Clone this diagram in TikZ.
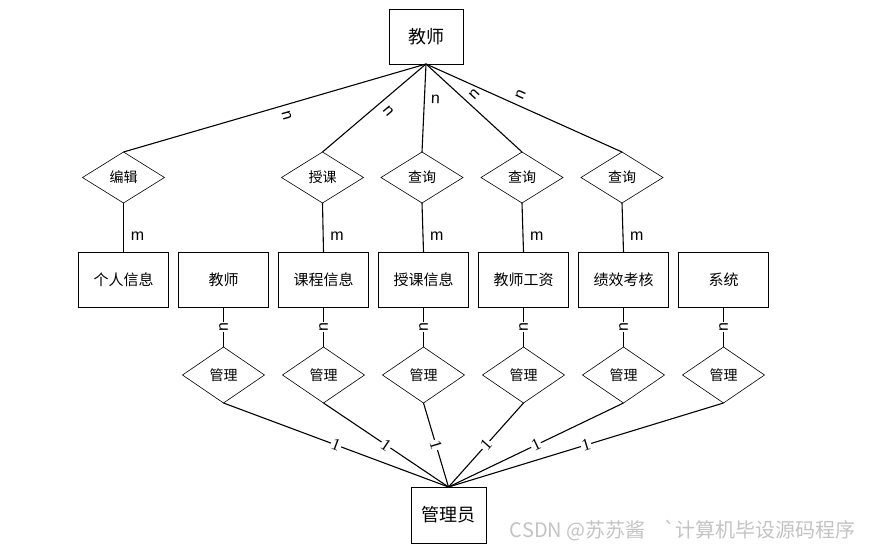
\documentclass[tikz,border=0pt]{standalone}
\usepackage{fontspec}
\setmainfont{Liberation Sans}
\newfontfamily\cjk{Noto Sans CJK SC}
\newfontfamily\numfont{Liberation Serif}
\usepackage{tikz}
\usetikzlibrary{positioning,shapes.geometric}
\definecolor{wmgray}{RGB}{195,195,195}

\begin{document}
\begin{tikzpicture}[x=1pt,y=1pt]
        \tikzset{entity/.style= {draw, rectangle, line width=.8pt, align=center,minimum width=90pt,minimum height=55pt,inner sep=0pt,outer sep=0pt,font=\cjk\fontsize{15}{18}\selectfont},
        bigentity/.style={entity,minimum width=74pt,font=\cjk\fontsize{18}{22}\selectfont},
        rel/.style={draw, diamond, line width=.6pt, inner sep=0pt,outer sep=0pt,minimum width=82pt,minimum height=51pt,font=\cjk\fontsize{14}{16}\selectfont},
        mrel/.style={rel,minimum height=56pt},
        card/.style={inner sep=1pt,font=\fontsize{16}{18}\selectfont},
        one/.style={sloped,fill=white,inner sep=1pt,font=\numfont\fontsize{17}{19}\selectfont},
        }
        \useasboundingbox (0,0) rectangle (869,-551);
        \node[entity] (info) at (123.5,-279.5) {个人信息};
        \node[entity, right =10pt of info] (tch) {教师};
        \node[entity, right =10pt of tch] (course) {课程信息};
        \node[entity, right =10pt of course] (lesson) {授课信息};
        \node[entity, right =10pt of lesson] (salary) {教师工资};
        \node[entity, right =10pt of salary] (perf) {绩效考核};
        \node[entity, right =10pt of perf] (sys) {系统};
        \node[rel, above =49pt of info] (edit) {编辑};
        \node[rel, above =49pt of course, xshift=-1pt] (teach) {授课};
        \node[rel, above =49pt of lesson, xshift=-1.5pt] (query1) {查询};
        \node[rel, above =49pt of salary, xshift=-1.5pt] (query2) {查询};
        \node[rel, above =49pt of perf, xshift=-1.5pt] (query3) {查询};
        \node[bigentity, above =88pt of query1, xshift=4pt] (teacher) {教师};
        \node[mrel, below =40pt of tch] (mg1) {管理};
        \node[mrel, below =40pt of course] (mg2) {管理};
        \node[mrel, below =40pt of lesson] (mg3) {管理};
        \node[mrel, below =40pt of salary] (mg4) {管理};
        \node[mrel, below =40pt of perf] (mg5) {管理};
        \node[mrel, below =40pt of sys] (mg6) {管理};
        \node[bigentity, minimum width=75pt, minimum height=56pt, below =84pt of mg3, xshift=25pt] (admin) {管理员};
        \node[anchor=east, inner sep=0pt, text=wmgray, font=\cjk\fontsize{20}{23}\selectfont] (wm) at (856,-531) {CSDN @苏苏酱\hspace{18pt}`计算机毕设源码程序};

%% paths
        \path[draw, line width=1.1pt] (teacher.south) edge node[card, pos=.47, xshift=3pt, yshift=-10.6pt, rotate=-74] {n} (edit.north)
                    (teacher.south) edge node[card, pos=.43, xshift=6.8pt, yshift=-9.2pt, rotate=-50] {n} (teach.north)
                    (teacher.south) edge node[card, pos=.4, xshift=11pt, rotate=-2] {n} (query1.north)
                    (teacher.south) edge node[card, pos=.43, xshift=7pt, yshift=7.5pt, rotate=47] {n} (query2.north)
                    (teacher.south) edge node[card, pos=.46, xshift=4.4pt, yshift=9.9pt, rotate=66] {n} (query3.north)
                    (edit.south) edge node[card, xshift=14pt, yshift=-8.5pt] {m} (info.north)
                    (teach.south) edge node[card, xshift=14pt, yshift=-8.5pt] {m} (course.north)
                    (query1.south) edge node[card, xshift=14pt, yshift=-8.5pt] {m} (lesson.north)
                    (query2.south) edge node[card, xshift=14pt, yshift=-8.5pt] {m} (salary.north)
                    (query3.south) edge node[card, xshift=14pt, yshift=-8.5pt] {m} (perf.north)
                    ;
        \path[draw, line width=1.1pt] (tch.south) edge node[card, fill=white, rotate=90] {n} (mg1.north)
                    (course.south) edge node[card, fill=white, rotate=90] {n} (mg2.north)
                    (lesson.south) edge node[card, fill=white, rotate=90] {n} (mg3.north)
                    (salary.south) edge node[card, fill=white, rotate=90] {n} (mg4.north)
                    (perf.south) edge node[card, fill=white, rotate=90] {n} (mg5.north)
                    (sys.south) edge node[card, fill=white, rotate=90] {n} (mg6.north)
                    (mg1.south) edge node[one] {1} (admin.north)
                    (mg2.south) edge node[one] {1} (admin.north)
                    (mg3.south) edge node[one] {1} (admin.north)
                    (mg4.south) edge node[one] {1} (admin.north)
                    (mg5.south) edge node[one] {1} (admin.north)
                    (mg6.south) edge node[one] {1} (admin.north)
                    ;
 \end{tikzpicture}
\end{document}
